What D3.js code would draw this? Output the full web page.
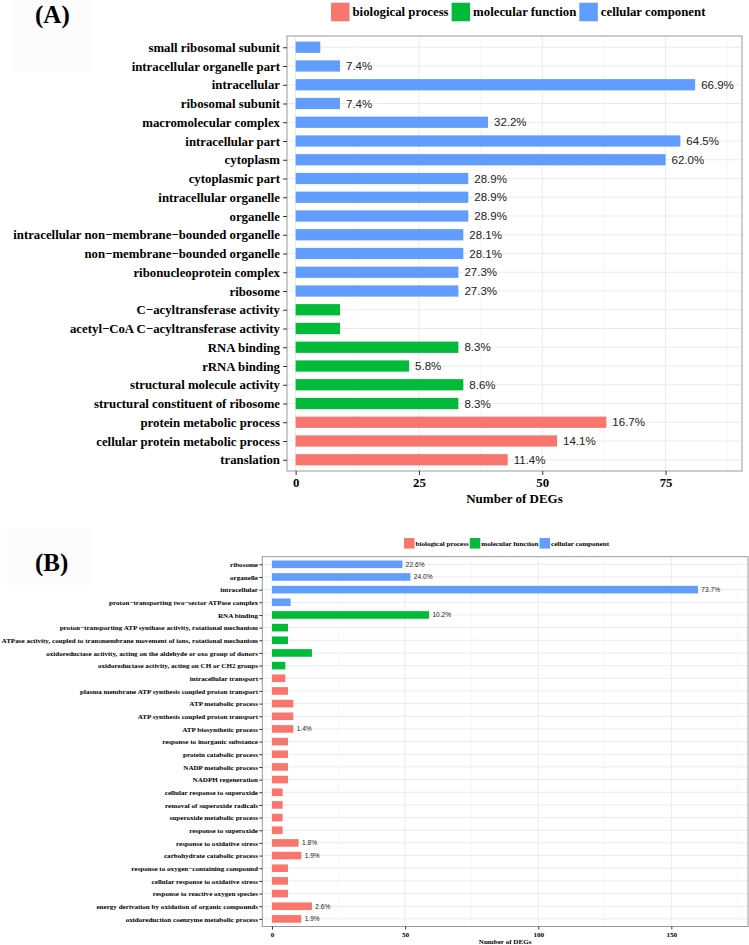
<!DOCTYPE html>
<html lang="en">
<head>
<meta charset="UTF-8">
<title>GO terms of DEGs</title>
<style>
  body { margin: 0; background: #fff; }
</style>
</head>
<body>
<script src="https://cdn.jsdelivr.net/npm/d3@7"></script>
<script>
// ---- panel A data ----
let catsA = ["small ribosomal subunit", "intracellular organelle part", "intracellular",
  "ribosomal subunit", "macromolecular complex", "intracellular part", "cytoplasm",
  "cytoplasmic part", "intracellular organelle", "organelle",
  "intracellular non\u2212membrane\u2212bounded organelle", "non\u2212membrane\u2212bounded organelle",
  "ribonucleoprotein complex", "ribosome", "C\u2212acyltransferase activity",
  "acetyl\u2212CoA C\u2212acyltransferase activity", "RNA binding", "rRNA binding",
  "structural molecule activity", "structural constituent of ribosome",
  "protein metabolic process", "cellular protein metabolic process", "translation"]
let countsA = [5, 9, 81, 9, 39, 78, 75, 35, 35, 35, 34, 34, 33, 33, 9, 9, 33, 23, 34, 33, 63, 53, 43]
let groupsA = ["CC", "CC", "CC", "CC", "CC", "CC", "CC", "CC", "CC", "CC", "CC", "CC", "CC", "CC",
  "MF", "MF", "MF", "MF", "MF", "MF", "BP", "BP", "BP"]
let pctA = ["", "7.4%", "66.9%", "7.4%", "32.2%", "64.5%", "62.0%", "28.9%", "28.9%", "28.9%",
  "28.1%", "28.1%", "27.3%", "27.3%", "", "", "8.3%", "5.8%", "8.6%", "8.3%", "16.7%", "14.1%", "11.4%"]
let majorA = [0, 25, 50, 75]
let minorA = [12.5, 37.5, 62.5, 87.5]

// ---- panel B data ----
let catsB = ["ribosome", "organelle", "intracellular", "proton\u2212transporting two\u2212sector ATPase complex",
  "RNA binding", "proton\u2212transporting ATP synthase activity, rotational mechanism",
  "ATPase activity, coupled to transmembrane movement of ions, rotational mechanism",
  "oxidoreductase activity, acting on the aldehyde or oxo group of donors",
  "oxidoreductase activity, acting on CH or CH2 groups", "intracellular transport",
  "plasma membrane ATP synthesis coupled proton transport", "ATP metabolic process",
  "ATP synthesis coupled proton transport", "ATP biosynthetic process",
  "response to inorganic substance", "protein catabolic process", "NADP metabolic process",
  "NADPH regeneration", "cellular response to superoxide", "removal of superoxide radicals",
  "superoxide metabolic process", "response to superoxide", "response to oxidative stress",
  "carbohydrate catabolic process", "response to oxygen\u2212containing compound",
  "cellular response to oxidative stress", "response to reactive oxygen species",
  "energy derivation by oxidation of organic compounds", "oxidoreduction coenzyme metabolic process"]
let countsB = [49, 52, 160, 7, 59, 6, 6, 15, 5, 5, 6, 8, 8, 8, 6, 6, 6, 6, 4, 4, 4, 4, 10, 11, 6, 6, 6, 15, 11]
let groupsB = ["CC", "CC", "CC", "CC", "MF", "MF", "MF", "MF", "MF",
  "BP", "BP", "BP", "BP", "BP", "BP", "BP", "BP", "BP", "BP", "BP", "BP", "BP", "BP", "BP", "BP", "BP", "BP", "BP", "BP"]
let pctB = ["22.6%", "24.0%", "73.7%", "", "10.2%", "", "", "", "", "", "", "", "", "1.4%",
  "", "", "", "", "", "", "", "", "1.8%", "1.9%", "", "", "", "2.6%", "1.9%"]
let majorB = [0, 50, 100, 150]
let minorB = [25, 75, 125, 175]

let groupKeys = ["BP", "MF", "CC"]
let groupNames = ["biological process", "molecular function", "cellular component"]
let color = d3.scaleOrdinal().domain(groupKeys).range(["#F8766D", "#00BA38", "#619CFF"])

let width = 749
let height = 945
let svg = d3.select("body").append("svg")
            .attr("width", width)
            .attr("height", height)

let serif = "'Liberation Serif', 'Times New Roman', serif"
let sans = "'Liberation Sans', Arial, sans-serif"

function drawPanel(c) {
  let g = svg.append("g")
  let x = d3.scaleLinear().domain(c.xDomain).range([c.left, c.right])
  let y = d3.scalePoint().domain(c.cats).range([c.top, c.bottom]).padding(0.6)
  let bh = y.step() * 0.6

  // panel letter with its faint box
  g.append("rect").attr("x", c.letterBox[0]).attr("y", c.letterBox[1])
   .attr("width", c.letterBox[2]).attr("height", c.letterBox[3]).attr("fill", "#fcfcfc")
  g.append("text").attr("x", c.letterX).attr("y", c.letterY)
   .style("font-family", serif).style("font-weight", "bold").style("font-size", c.letterSize + "px")
   .text(c.letter)

  // grid
  g.selectAll(".minor").data(c.minor).enter().append("line")
   .attr("x1", d => x(d)).attr("x2", d => x(d)).attr("y1", c.top).attr("y2", c.bottom)
   .attr("stroke", "#f2f2f2").attr("stroke-width", 0.6)
  g.selectAll(".major").data(c.major).enter().append("line")
   .attr("x1", d => x(d)).attr("x2", d => x(d)).attr("y1", c.top).attr("y2", c.bottom)
   .attr("stroke", "#ebebeb").attr("stroke-width", 1)
  g.selectAll(".hgrid").data(c.cats).enter().append("line")
   .attr("x1", c.left).attr("x2", c.right).attr("y1", d => y(d)).attr("y2", d => y(d))
   .attr("stroke", "#ebebeb").attr("stroke-width", 1)

  // bars
  g.selectAll(".bar").data(c.cats).enter().append("rect")
   .attr("x", x(0))
   .attr("y", d => y(d) - bh / 2)
   .attr("width", (d, i) => x(c.counts[i]) - x(0))
   .attr("height", bh)
   .attr("fill", (d, i) => color(c.groups[i]))

  // percentage labels
  g.selectAll(".pct").data(c.cats).enter().append("text")
   .attr("x", (d, i) => x(c.counts[i]) + c.pctOffset)
   .attr("y", d => y(d))
   .attr("dy", "0.35em")
   .style("font-family", sans).style("font-size", c.pctSize + "px").style("fill", "#222")
   .text((d, i) => c.pcts[i])

  // border
  g.append("rect").attr("x", c.left).attr("y", c.top)
   .attr("width", c.right - c.left).attr("height", c.bottom - c.top)
   .attr("fill", "none").attr("stroke", "#999").attr("stroke-width", 1)

  // axes
  let ya = g.append("g").attr("transform", "translate(" + c.left + ",0)")
            .call(d3.axisLeft(y).tickSize(c.tick).tickPadding(c.yPad))
  let xa = g.append("g").attr("transform", "translate(0," + c.bottom + ")")
            .call(d3.axisBottom(x).tickValues(c.major).tickSize(c.tick).tickPadding(c.xPad))
  for (let a of [ya, xa]) {
    a.select(".domain").remove()
    a.selectAll(".tick line").attr("stroke", "#333")
    a.selectAll("text").style("font-family", serif).style("font-weight", "bold")
     .style("font-size", c.fontSize + "px").attr("fill", "#000")
  }

  g.append("text").attr("x", (c.left + c.right) / 2).attr("y", c.titleY)
   .attr("text-anchor", "middle")
   .style("font-family", serif).style("font-weight", "bold").style("font-size", c.titleSize + "px")
   .text("Number of DEGs")

  // legend
  let lg = g.append("g")
  let lx = c.legendX
  groupKeys.forEach(function(k, i) {
    lg.append("rect").attr("x", lx).attr("y", c.legendY - c.legendBox / 2)
      .attr("width", c.legendBox).attr("height", c.legendBox).attr("fill", color(k))
    let t = lg.append("text").attr("x", lx + c.legendBox + c.legendGap).attr("y", c.legendY)
      .attr("dy", "0.35em")
      .style("font-family", serif).style("font-weight", "bold").style("font-size", c.fontSize + "px")
      .text(groupNames[i])
    lx += c.legendBox + c.legendGap + t.node().getComputedTextLength() + c.legendGap
  })
}

drawPanel({
  cats: catsA, counts: countsA, groups: groupsA, pcts: pctA,
  major: majorA, minor: minorA, xDomain: [-1.75, 90.5],
  left: 287, right: 742, top: 36, bottom: 471,
  fontSize: 12.8, titleSize: 13, titleY: 503, pctSize: 11.5, pctOffset: 6,
  tick: 4, yPad: 3, xPad: 2.5,
  letter: "(A)", letterX: 35, letterY: 22.5, letterSize: 25, letterBox: [13, 0, 79, 72],
  legendX: 331, legendY: 12, legendBox: 18.5, legendGap: 3
})

drawPanel({
  cats: catsB, counts: countsB, groups: groupsB, pcts: pctB,
  major: majorB, minor: minorB, xDomain: [-3.64, 178.8],
  left: 262.3, right: 748, top: 556.7, bottom: 926.5,
  fontSize: 7.1, titleSize: 7.1, titleY: 943.5, pctSize: 6.6, pctOffset: 3.4,
  tick: 3, yPad: 1.3, xPad: 2,
  letter: "(B)", letterX: 35, letterY: 571, letterSize: 25, letterBox: [7, 528, 83, 57],
  legendX: 404, legendY: 543.3, legendBox: 10.5, legendGap: 1
})
</script>
</body>
</html>
